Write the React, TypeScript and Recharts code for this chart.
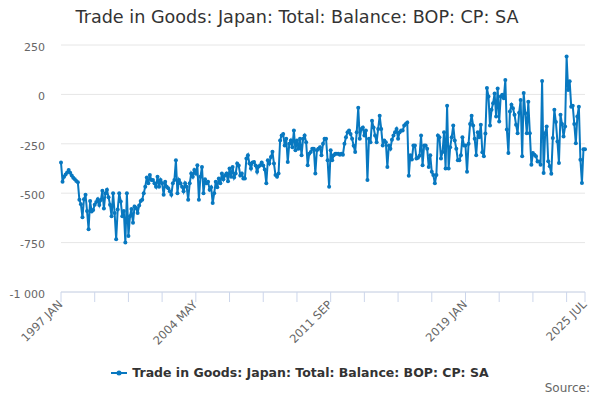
import { LineChart, Line, XAxis, YAxis, CartesianGrid } from 'recharts';

// Japan trade in goods balance, monthly, Jan 1997 - Jul 2025
const v1997 = [-345, -442, -417, -405, -395, -383, -397, -410, -422, -430, -438, -445];
const v1998 = [-533, -556, -622, -530, -508, -590, -683, -540, -592, -585, -558, -545];
const v1999 = [-530, -560, -535, -488, -578, -500, -483, -520, -558, -617, -500, -600];
const v2000 = [-733, -583, -500, -542, -617, -590, -750, -500, -717, -617, -580, -650];
const v2001 = [-567, -575, -600, -562, -540, -533, -500, -467, -420, -450, -408, -433];
const v2002 = [-433, -450, -467, -417, -467, -433, -450, -508, -442, -467, -475, -490];
const v2003 = [-508, -450, -433, -333, -500, -433, -450, -467, -490, -450, -467, -533];
const v2004 = [-450, -400, -417, -383, -400, -358, -533, -417, -367, -500, -430, -450];
const v2005 = [-442, -483, -470, -550, -500, -442, -470, -425, -450, -400, -430, -410];
const v2006 = [-400, -440, -375, -417, -367, -420, -400, -350, -360, -410, -400, -425];
const v2007 = [-425, -325, -308, -350, -375, -345, -342, -360, -392, -365, -358, -345];
const v2008 = [-360, -380, -450, -333, -350, -317, -290, -350, -408, -417, -400, -233];
const v2009 = [-208, -200, -258, -225, -342, -250, -233, -267, -183, -283, -233, -275];
const v2010 = [-225, -308, -225, -208, -242, -358, -300, -292, -275, -275, -400, -283];
const v2011 = [-275, -267, -308, -250, -225, -225, -333, -467, -283, -333, -308, -300];
const v2012 = [-300, -300, -305, -300, -305, -250, -217, -192, -183, -200, -225, -260];
const v2013 = [-292, -192, -67, -225, -175, -167, -208, -183, -433, -225, -242, -133];
const v2014 = [-167, -208, -242, -175, -108, -175, -258, -233, -242, -367, -258, -275];
const v2015 = [-230, -208, -192, -175, -225, -192, -183, -183, -158, -150, -142, -412];
const v2016 = [-308, -330, -258, -258, -325, -320, -310, -208, -358, -258, -258, -275];
const v2017 = [-367, -308, -392, -408, -450, -408, -208, -217, -325, -292, -192, -375];
const v2018 = [-58, -375, -267, -217, -158, -233, -275, -333, -333, -308, -217, -258];
const v2019 = [-258, -392, -250, -150, -108, -158, -225, -308, -192, -217, -153, -293];
const v2020 = [-313, -198, 32, -10, -158, -78, -45, 5, -112, 30, -137, -10];
const v2021 = [-2, -20, 73, -178, -297, -87, -53, -70, -103, -153, -196, -93];
const v2022 = [-28, -313, 7, -95, -196, -37, -196, -356, -297, -305, -313, -340];
const v2023 = [-340, -356, 68, -398, -196, -162, -338, -363, -401, -221, -78, -140];
const v2024 = [-238, -347, -103, -150, -213, -162, 192, 22, 66, -62, -58, -150];
const v2025 = [-247, -112, -62, -331, -448, -278, -278];

const startYear = 1997;
const monthNames = ['JAN', 'FEB', 'MAR', 'APR', 'MAY', 'JUN', 'JUL', 'AUG', 'SEP', 'OCT', 'NOV', 'DEC'];
const yTicks = [-1000, -750, -500, -250, 0, 250];
const xTicks = [0, 22, 44, 66, 88, 110, 132, 154, 176, 198, 220, 242, 264, 286, 308, 330, 342];
const xLabelled = [0, 88, 176, 264, 342];
const seriesName = 'Trade in Goods: Japan: Total: Balance: BOP: CP: SA';

const allValues = [
  ...v1997, ...v1998, ...v1999, ...v2000, ...v2001, ...v2002, ...v2003, ...v2004,
  ...v2005, ...v2006, ...v2007, ...v2008, ...v2009, ...v2010, ...v2011, ...v2012,
  ...v2013, ...v2014, ...v2015, ...v2016, ...v2017, ...v2018, ...v2019, ...v2020,
  ...v2021, ...v2022, ...v2023, ...v2024, ...v2025,
];

const monthLabel = (i: number) =>
  `${startYear + Math.floor(i / 12)} ${monthNames[i % 12]}`;

const data = allValues.map((value, i) => ({ i, month: monthLabel(i), value }));

const LINE = '#0878c0';
const FONT = '"DejaVu Sans", Verdana, sans-serif';

const formatY = (v: number) => {
  const s = Math.abs(v).toString().replace(/\B(?=(\d{3})+(?!\d))/g, ' ');
  return v < 0 ? `-${s}` : s;
};

function XTick({ x, y, payload }: any) {
  const label = xLabelled.includes(payload.value) ? monthLabel(payload.value) : '';
  return (
    <g transform={`translate(${x - 2},${y - 3})`}>
      <text
        x={0}
        y={0}
        dy={6}
        textAnchor="end"
        transform="rotate(-45)"
        fill="#666666"
        fontSize={11.5}
        fontFamily={FONT}
      >
        {label}
      </text>
    </g>
  );
}

function YTick({ x, y, payload }: any) {
  return (
    <text
      x={x}
      y={y + 2}
      dy="0.35em"
      textAnchor="end"
      fill="#666666"
      fontSize={11}
      fontFamily={FONT}
    >
      {formatY(payload.value)}
    </text>
  );
}

export default function App() {
  return (
    <div
      style={{
        position: 'absolute',
        left: 0,
        top: 0,
        width: 600,
        height: 400,
        background: '#ffffff',
        fontFamily: FONT,
      }}
    >
      <div
        style={{
          position: 'absolute',
          top: 7,
          left: 0,
          width: 594,
          textAlign: 'center',
          fontSize: 17.6,
          color: '#333333',
        }}
      >
        {seriesName}
      </div>
      <LineChart
        width={600}
        height={400}
        data={data}
        margin={{ top: 45, right: 15, bottom: 78, left: 0 }}
      >
        <CartesianGrid vertical={false} stroke="#e6e6e6" />
        <XAxis
          dataKey="i"
          type="number"
          domain={[0, 342]}
          ticks={xTicks}
          interval={0}
          tick={<XTick />}
          tickSize={10}
          tickMargin={2}
          height={30}
          stroke="#ccd6eb"
          tickLine={{ stroke: '#ccd6eb' }}
          axisLine={{ stroke: '#ccd6eb' }}
        />
        <YAxis
          width={61}
          domain={[-1000, 250]}
          ticks={yTicks}
          interval={0}
          axisLine={false}
          tickLine={false}
          tickSize={0}
          tickMargin={16}
          tick={<YTick />}
        />
        <Line
          type="linear"
          dataKey="value"
          stroke={LINE}
          strokeWidth={2}
          dot={{ r: 2, fill: LINE, stroke: LINE, strokeWidth: 0 }}
          activeDot={false}
          isAnimationActive={false}
        />
      </LineChart>
      <div
        style={{
          position: 'absolute',
          top: 365,
          left: 0,
          width: 600,
          display: 'flex',
          justifyContent: 'center',
          alignItems: 'center',
          fontSize: 12.5,
          fontWeight: 'bold',
          color: '#333333',
        }}
      >
        <svg width={16} height={10} style={{ marginRight: 5 }}>
          <line x1={0} y1={5} x2={16} y2={5} stroke={LINE} strokeWidth={2} />
          <circle cx={8} cy={5} r={2.5} fill={LINE} />
        </svg>
        {seriesName}
      </div>
      <div
        style={{
          position: 'absolute',
          top: 381,
          right: 10,
          fontSize: 12,
          color: '#666666',
        }}
      >
        Source:
      </div>
    </div>
  );
}
